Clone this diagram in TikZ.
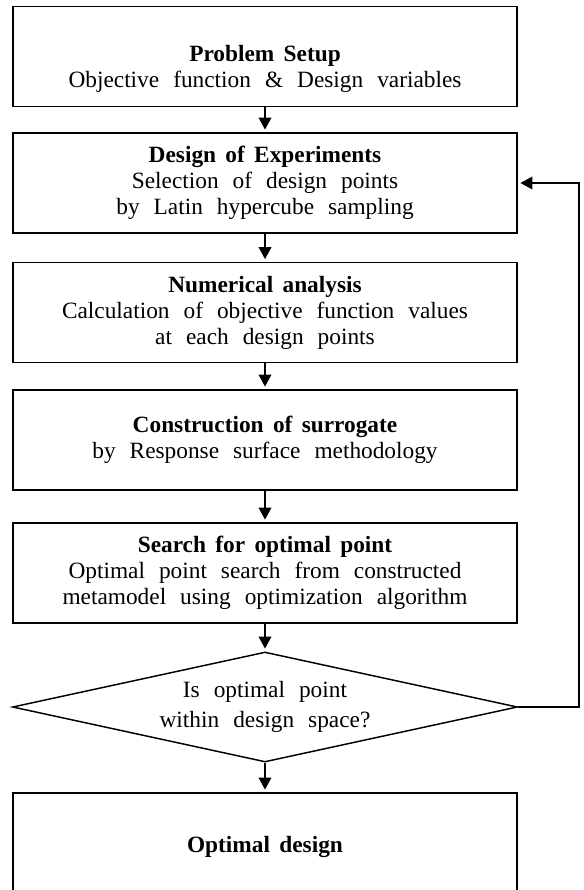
\documentclass[tikz,border=0pt]{standalone}
\usepackage{fontspec}
\setmainfont{Liberation Serif}
\usetikzlibrary{arrows.meta, shapes.geometric}
\newcommand{\wsp}{\spaceskip=.6em\relax}
\newcommand{\hd}[1]{{\bfseries\spaceskip=.4em\relax #1}}

\begin{document}
\begin{tikzpicture}[x=0.75pt, y=-0.75pt,
    procbox/.style={draw, line width=1.1pt, minimum width=378pt, minimum height=75pt,
        inner sep=0pt, align=center, font=\fontsize{17.5}{19.5}\selectfont\wsp,
        execute at begin node={\rule{0pt}{18pt}}},
    decision/.style={draw, diamond, aspect=4.6, line width=1.1pt, minimum width=378.75pt,
        minimum height=82.5pt, inner sep=0pt, align=center, font=\fontsize{17.5}{22.5}\selectfont\wsp,
        execute at begin node={\rule{0pt}{18pt}}},
    flow/.style={-{Triangle[length=9pt, width=9.5pt]}, line width=1pt, shorten >=2pt}]
    \path[use as bounding box] (0,0) rectangle (583,890);
    \clip (0,0) rectangle (583,890);
    % Steps
    \node[procbox] (setup) at (265,56.5) {\rule{0pt}{31pt}\hd{Problem Setup}\\Objective function \& Design variables};
    \node[procbox] (doe) at (265,183) {\hd{Design of Experiments}\\Selection of design points\\by Latin hypercube sampling};
    \node[procbox] (num) at (265,312.5) {\hd{Numerical analysis}\\Calculation of objective function values\\at each design points};
    \node[procbox] (surr) at (265,440) {\hd{Construction of surrogate}\\by Response surface methodology};
    \node[procbox] (search) at (265,573) {\hd{Search for optimal point}\\Optimal point search from constructed\\metamodel using optimization algorithm};
    % Check
    \node[decision] (check) at (265,707) {Is optimal point\\within design space?};
    \node[procbox] (optim) at (265,843) {\hd{Optimal design}};
    % Arrows
    \draw[flow] (setup) -- (doe);
    \draw[flow] (doe) -- (num);
    \draw[flow] (num) -- (surr);
    \draw[flow] (surr) -- (search);
    \draw[flow] (search) -- (check);
    \draw[flow] (check) -- (optim);
    % Loop back
    \coordinate (back) at (579,707);
    \draw[flow, line cap=rect] (check.east) -- (back) |- (doe.east);
\end{tikzpicture}
\end{document}
